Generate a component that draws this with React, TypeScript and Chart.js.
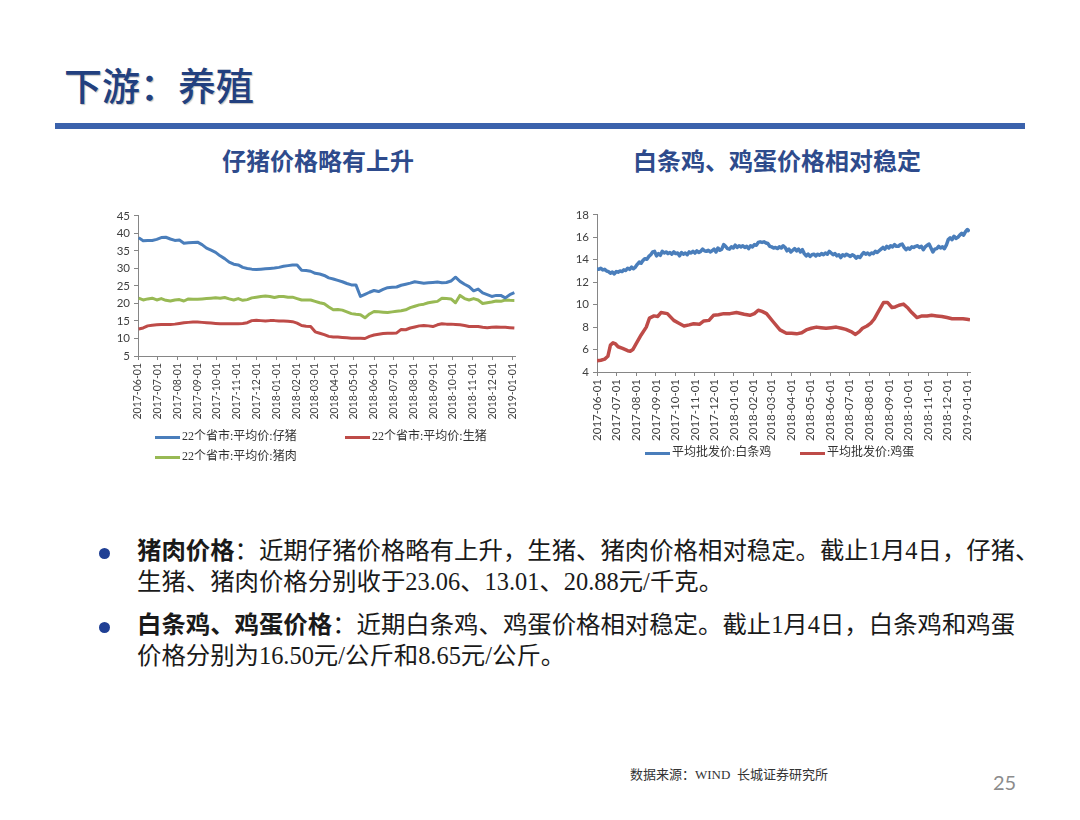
import React, { useEffect, useRef } from "react";
import { Chart, registerables } from "chart.js";
Chart.register(...registerables);

// ---------- shared month ticks (day offsets from 2017-06-01) ----------
const monthLabels = [
  "2017-06-01", "2017-07-01", "2017-08-01", "2017-09-01", "2017-10-01",
  "2017-11-01", "2017-12-01", "2018-01-01", "2018-02-01", "2018-03-01",
  "2018-04-01", "2018-05-01", "2018-06-01", "2018-07-01", "2018-08-01",
  "2018-09-01", "2018-10-01", "2018-11-01", "2018-12-01", "2019-01-01",
];
const monthDays = [0, 30, 61, 92, 122, 153, 183, 214, 245, 273, 304, 334, 365, 395, 426, 457, 487, 518, 548, 579];

// ---------- chart 1: weekly pig prices (Fridays from 2017-06-02) ----------
const pigFirstDay = 1;
const pigStepDays = 7;
const pigletPrice = [
  38.8, 37.9, 38.0, 38.0, 38.3, 38.8, 38.9, 38.4, 38.0, 38.1,
  37.2, 37.3, 37.4, 37.5, 36.8, 35.8, 35.2, 34.6, 33.6, 32.8,
  31.8, 31.2, 31.0, 30.3, 30.0, 29.8, 29.7, 29.8, 29.9, 30.0,
  30.1, 30.3, 30.6, 30.8, 31.0, 31.0, 29.5, 29.4, 29.2, 28.6,
  28.4, 28.0, 27.3, 27.0, 26.6, 26.2, 25.7, 25.3, 25.3, 22.0,
  22.6, 23.2, 23.7, 23.4, 24.0, 24.5, 24.6, 24.7, 25.2, 25.5,
  25.8, 26.2, 26.0, 25.8, 25.9, 26.0, 26.1, 25.9, 26.0, 26.4,
  27.5, 26.3, 25.5, 24.8, 23.6, 24.1, 23.0, 22.5, 22.0, 22.3,
  22.3, 21.6, 22.5, 23.06,
];
const hogPrice = [
  12.7, 13.0, 13.6, 13.8, 13.9, 14.0, 14.0, 14.0, 14.1, 14.3,
  14.5, 14.6, 14.7, 14.7, 14.6, 14.5, 14.4, 14.3, 14.2, 14.2,
  14.2, 14.2, 14.2, 14.3, 14.5, 15.1, 15.2, 15.1, 15.0, 15.1,
  15.1, 15.0, 15.0, 14.9, 14.8, 14.4, 13.7, 13.5, 13.4, 11.9,
  11.5, 11.1, 10.6, 10.4, 10.4, 10.3, 10.2, 10.1, 10.1, 10.1,
  10.0, 10.6, 11.0, 11.2, 11.4, 11.5, 11.5, 11.6, 12.6, 12.5,
  13.0, 13.3, 13.6, 13.7, 13.6, 13.4, 13.9, 14.2, 14.1, 14.1,
  14.0, 13.9, 13.7, 13.4, 13.4, 13.4, 13.2, 13.1, 13.2, 13.3,
  13.2, 13.2, 13.1, 13.01,
];
const porkPrice = [
  21.5, 21.0, 21.3, 21.5, 21.0, 21.4, 20.9, 20.7, 21.0, 21.1,
  20.7, 21.3, 21.2, 21.2, 21.3, 21.4, 21.5, 21.6, 21.5, 21.7,
  21.3, 21.0, 21.4, 20.9, 21.1, 21.6, 21.8, 22.0, 22.1, 22.0,
  21.7, 22.0, 22.0, 21.8, 21.8, 21.4, 21.0, 21.0, 21.0, 20.6,
  20.2, 19.9, 19.0, 18.2, 18.3, 18.1, 17.6, 17.1, 16.9, 16.8,
  15.9, 17.0, 17.7, 17.6, 17.5, 17.4, 17.6, 17.8, 17.9, 18.2,
  18.8, 19.2, 19.6, 19.8, 20.2, 20.4, 20.6, 21.5, 21.4, 21.3,
  20.2, 22.3, 21.4, 21.0, 21.4, 21.0, 20.0, 20.2, 20.4, 20.7,
  20.6, 21.0, 20.9, 20.88,
];

// ---------- chart 2: chicken (every 3 days from 2017-06-01) and eggs ----------
const chickenFirstDay = 0;
const chickenStepDays = 3;
const chickenPrice = [
  13.2, 13.15, 13.25, 13.1, 13.15, 13.0, 12.95, 12.8, 12.9, 12.75,
  12.95, 12.9, 13.0, 12.95, 13.1, 13.05, 13.25, 13.15, 13.35, 13.2,
  13.35, 13.6, 13.8, 13.7, 13.95, 14.1, 14.05, 14.3, 14.45, 14.7,
  14.75, 14.35, 14.55, 14.4, 14.75, 14.6, 14.7, 14.55, 14.65, 14.5,
  14.7, 14.55, 14.6, 14.35, 14.65, 14.5, 14.6, 14.45, 14.7, 14.6,
  14.75, 14.6, 14.8, 14.65, 14.75, 14.95, 14.8, 14.75, 14.85, 14.7,
  14.8, 14.95, 14.7, 15.05, 14.85, 14.95, 15.35, 15.2, 15.0, 14.95,
  15.15, 15.05, 15.3, 15.1, 15.25, 15.15, 15.25, 15.1, 15.2, 15.0,
  15.25, 15.15, 15.35, 15.3, 15.55, 15.6, 15.55, 15.6, 15.5, 15.45,
  15.2, 15.15, 15.05, 15.1, 15.0, 15.15, 15.05, 15.25, 15.1, 14.8,
  14.95, 14.7, 14.85, 15.0, 14.8, 14.95, 14.7, 14.9, 14.55, 14.35,
  14.5, 14.3, 14.45, 14.5, 14.35, 14.5, 14.4, 14.55, 14.45, 14.6,
  14.5, 14.75, 14.6, 14.45, 14.55, 14.35, 14.45, 14.2, 14.45, 14.35,
  14.5, 14.4, 14.3, 14.45, 14.35, 14.15, 14.3, 14.2, 14.45, 14.65,
  14.5, 14.6, 14.45, 14.6, 14.55, 14.75, 14.65, 14.8, 14.95, 15.1,
  14.95, 15.2, 15.05, 15.25, 15.15, 15.35, 15.2, 15.2, 15.35, 15.4,
  15.1, 14.9, 15.05, 14.95, 15.15, 15.1, 15.2, 15.25, 15.1, 15.2,
  14.9, 15.15, 15.3, 15.4, 15.05, 14.7, 14.95, 15.0, 15.2, 15.05,
  15.15, 15.0, 15.3, 15.8, 15.95, 15.8, 16.1, 15.9, 16.0, 16.2,
  16.35, 16.2, 16.5, 16.7, 16.5,
];
const eggDays = [
  0, 6, 12, 17, 21, 25, 29, 33, 40, 48, 52, 56, 61, 69, 77, 82, 89, 95, 100, 110,
  120, 128, 136, 144, 151, 160, 167, 175, 182, 190, 198, 208, 218, 230, 239, 246, 252, 258, 265, 275,
  286, 296, 304, 312, 320, 327, 335, 343, 350, 358, 366, 374, 382, 389, 397, 404, 410, 415, 422, 428,
  433, 438, 444, 448, 454, 461, 466, 472, 479, 486, 492, 500, 508, 516, 523, 531, 539, 547, 555, 563,
  572, 578, 583,
];
const eggPrice = [
  5.0, 5.05, 5.15, 5.4, 6.4, 6.6, 6.5, 6.25, 6.1, 5.9, 5.85, 6.0, 6.5, 7.3, 8.0, 8.8, 9.0, 8.95, 9.3, 9.2,
  8.6, 8.35, 8.1, 8.2, 8.3, 8.25, 8.55, 8.6, 9.05, 9.1, 9.2, 9.2, 9.3, 9.15, 9.05, 9.2, 9.5, 9.4, 9.2, 8.5,
  7.75, 7.45, 7.45, 7.4, 7.5, 7.75, 7.9, 8.0, 7.95, 7.9, 7.95, 8.0, 7.9, 7.8, 7.6, 7.35, 7.6, 7.9, 8.1, 8.35,
  8.7, 9.2, 9.8, 10.2, 10.2, 9.75, 9.8, 9.95, 10.05, 9.7, 9.3, 8.85, 9.0, 9.0, 9.05, 9.0, 8.95, 8.85, 8.75, 8.75,
  8.75, 8.7, 8.65,
];

const BLUE = "#4A7EBB";
const RED = "#BE4B48";
const GREEN = "#98B954";
const AXIS = "#868686";
const TICK_TEXT = "#404040";
const TICK_FONT = "Lato, 'Open Sans', sans-serif";

function xScale(labelSize: number, height: number) {
  return {
    type: "linear" as const,
    min: 0,
    max: 583,
    afterBuildTicks: (s: any) => {
      s.ticks = monthDays.map((v) => ({ value: v }));
    },
    afterFit: (s: any) => {
      s.height = height;
    },
    ticks: {
      autoSkip: false,
      minRotation: 90,
      maxRotation: 90,
      padding: 3,
      color: TICK_TEXT,
      font: { family: TICK_FONT, size: labelSize },
      callback: (_v: any, i: number) => monthLabels[i],
    },
    grid: { drawOnChartArea: false, drawTicks: true, tickLength: 4, color: AXIS },
    border: { color: AXIS },
  };
}

function yScale(min: number, max: number, step: number, width: number) {
  return {
    min,
    max,
    afterFit: (s: any) => {
      s.width = width;
    },
    ticks: {
      stepSize: step,
      padding: 4,
      color: TICK_TEXT,
      font: { family: TICK_FONT, size: 11.5 },
    },
    grid: { drawOnChartArea: false, drawTicks: true, tickLength: 4, color: AXIS },
    border: { color: AXIS },
  };
}

function PigChart() {
  const ref = useRef<HTMLCanvasElement>(null);
  useEffect(() => {
    const toPts = (arr: number[]) => arr.map((y, i) => ({ x: pigFirstDay + pigStepDays * i, y }));
    const chart = new Chart(ref.current!, {
      type: "line",
      data: {
        datasets: [
          { label: "22个省市:平均价:仔猪", data: toPts(pigletPrice), borderColor: BLUE, borderWidth: 3 },
          { label: "22个省市:平均价:生猪", data: toPts(hogPrice), borderColor: RED, borderWidth: 3 },
          { label: "22个省市:平均价:猪肉", data: toPts(porkPrice), borderColor: GREEN, borderWidth: 3 },
        ],
      },
      options: {
        animation: false,
        responsive: false,
        parsing: false as any,
        elements: { point: { radius: 0 }, line: { tension: 0, borderJoinStyle: "round" } },
        layout: { padding: { top: 10, right: 15, left: 0, bottom: 0 } },
        plugins: { legend: { display: false }, tooltip: { enabled: false } },
        scales: {
          x: xScale(10.5, 79) as any,
          y: yScale(5, 45, 5, 38) as any,
        },
      },
    });
    return () => chart.destroy();
  }, []);
  return <canvas ref={ref} width={430} height={230} style={{ position: "absolute", left: 100, top: 205 }} />;
}

function PoultryChart() {
  const ref = useRef<HTMLCanvasElement>(null);
  useEffect(() => {
    const chicken = chickenPrice.map((y, i) => ({ x: chickenFirstDay + chickenStepDays * i, y }));
    const eggs = eggPrice.map((y, i) => ({ x: eggDays[i], y }));
    const chart = new Chart(ref.current!, {
      type: "line",
      data: {
        datasets: [
          { label: "平均批发价:白条鸡", data: chicken, borderColor: BLUE, borderWidth: 3.5 },
          { label: "平均批发价:鸡蛋", data: eggs, borderColor: RED, borderWidth: 3.5 },
        ],
      },
      options: {
        animation: false,
        responsive: false,
        parsing: false as any,
        elements: { point: { radius: 0 }, line: { tension: 0, borderJoinStyle: "round" } },
        layout: { padding: { top: 10, right: 15, left: 0, bottom: 0 } },
        plugins: { legend: { display: false }, tooltip: { enabled: false } },
        scales: {
          x: xScale(11.5, 73) as any,
          y: yScale(4, 18, 2, 37) as any,
        },
      },
    });
    return () => chart.destroy();
  }, []);
  return <canvas ref={ref} width={425} height={241} style={{ position: "absolute", left: 560, top: 204 }} />;
}

const CJK = "'Noto Sans CJK SC', sans-serif";
const SERIF_CJK = "'Liberation Serif', 'Noto Sans CJK SC', serif";

function Text(props: {
  x: number; cy: number; size: number; children: React.ReactNode; color?: string;
  weight?: number | string; family?: string; center?: boolean; shadow?: string;
}) {
  const { x, cy, size, children, color = "#222", weight = 400, family = CJK, center, shadow } = props;
  return (
    <div
      style={{
        position: "absolute",
        left: center ? x - 300 : x,
        width: center ? 600 : undefined,
        textAlign: center ? "center" : "left",
        top: cy - 0.556 * size,
        fontSize: size,
        lineHeight: 1,
        fontFamily: family,
        fontWeight: weight as any,
        color,
        whiteSpace: "nowrap",
        textShadow: shadow,
      }}
    >
      {children}
    </div>
  );
}

function LegendItem(props: { x: number; cy: number; color: string; label: string }) {
  return (
    <>
      <div style={{ position: "absolute", left: props.x, top: props.cy - 1.5, width: 25, height: 3, background: props.color }} />
      <Text x={props.x + 27} cy={props.cy} size={12} color="#333" family={SERIF_CJK}>
        {props.label}
      </Text>
    </>
  );
}

function Bullet(props: { cy: number }) {
  return (
    <div
      style={{
        position: "absolute",
        left: 98.5,
        top: props.cy - 5.5,
        width: 11,
        height: 11,
        borderRadius: "50%",
        background: "#1F3F94",
      }}
    />
  );
}

export default function App() {
  const body = { size: 24.4, family: SERIF_CJK, color: "#1a1a1a" };
  return (
    <div style={{ position: "absolute", left: 0, top: 0, width: 1080, height: 820, background: "#fff", overflow: "hidden" }}>
      <Text x={64} cy={86} size={38} color="#22407F" weight={500} shadow="1px 1px 1px rgba(0,0,0,0.25)">
        下游：养殖
      </Text>
      <div style={{ position: "absolute", left: 55, top: 123, width: 970, height: 6, background: "#3B62AC" }} />

      <Text x={318} cy={161} size={24} color="#2E4B8C" weight={700} center>
        仔猪价格略有上升
      </Text>
      <Text x={777} cy={161} size={24} color="#2E4B8C" weight={700} center>
        白条鸡、鸡蛋价格相对稳定
      </Text>

      <PigChart />
      <PoultryChart />

      <LegendItem x={155} cy={437} color={BLUE} label="22个省市:平均价:仔猪" />
      <LegendItem x={345} cy={437} color={RED} label="22个省市:平均价:生猪" />
      <LegendItem x={155} cy={457} color={GREEN} label="22个省市:平均价:猪肉" />

      <LegendItem x={645} cy={453} color={BLUE} label="平均批发价:白条鸡" />
      <LegendItem x={800} cy={453} color={RED} label="平均批发价:鸡蛋" />

      <Bullet cy={553} />
      <Text x={137} cy={553} {...body}>
        <b>猪肉价格</b>：近期仔猪价格略有上升，生猪、猪肉价格相对稳定。截止1月4日，仔猪、
      </Text>
      <Text x={137} cy={584} {...body}>
        生猪、猪肉价格分别收于23.06、13.01、20.88元/千克。
      </Text>
      <Bullet cy={627} />
      <Text x={137} cy={627} {...body}>
        <b>白条鸡、鸡蛋价格</b>：近期白条鸡、鸡蛋价格相对稳定。截止1月4日，白条鸡和鸡蛋
      </Text>
      <Text x={137} cy={658} {...body}>
        价格分别为16.50元/公斤和8.65元/公斤。
      </Text>

      <Text x={630} cy={775} size={13} color="#333" family={SERIF_CJK}>
        数据来源：WIND&nbsp;&nbsp;长城证券研究所
      </Text>
      <Text x={993} cy={783} size={20} color="#8C8C8C" family="Lato, sans-serif">
        25
      </Text>
    </div>
  );
}
